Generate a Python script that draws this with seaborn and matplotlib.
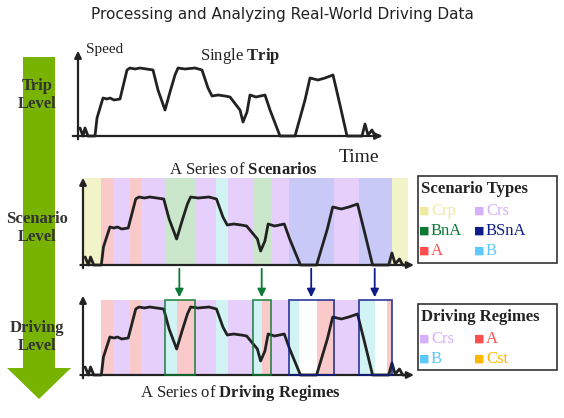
import matplotlib
matplotlib.use('Agg')
import matplotlib.pyplot as plt
from matplotlib.patches import FancyArrow, Rectangle
import seaborn as sns
import pandas as pd

sns.set_theme(style="white")
plt.rcParams['font.family'] = ['DejaVu Sans']
plt.rcParams['mathtext.fontset'] = 'custom'
plt.rcParams['mathtext.rm'] = 'Liberation Serif'
plt.rcParams['mathtext.bf'] = 'Liberation Serif:bold'
SERIF = ['Liberation Serif', 'DejaVu Serif']

# ─── Data ─────────────────────────────────────────────────────────────────────
time  = [2, 5, 7, 10, 17, 19, 25, 29, 32, 36, 42, 49, 52, 57, 62, 75, 80, 87, 92, 97, 100,
         107, 117, 124, 130, 134, 140, 147, 152, 162, 165, 169, 172, 178, 187, 192, 202, 217,
         227, 232, 240, 247, 255, 262, 269, 284, 287, 290, 294, 297, 302]
speed = [8, 0, 8, 0, 0, 18, 38, 37, 38, 36, 37, 66, 68, 67, 68, 66, 46, 26, 44, 61, 68,
         67, 68, 66, 48, 40, 41, 40, 39, 26, 14, 24, 41, 39, 41, 26, 0, 0,
         36, 58, 56, 58, 61, 31, 0, 0, 12, 1, 6, 0, 0]

scen_bounds = [0, 17, 28, 44, 54, 76, 104, 124, 135, 158, 175, 191, 233, 256, 287, 302]
scen_types  = ["Crp", "A", "Crs", "A", "Crs", "BnA", "Crs", "B", "Crs", "BnA", "Crs", "BSnA",
               "Crs", "BSnA", "Crp"]

reg_bounds = [17, 28, 44, 54, 76, 87, 104, 124, 135, 158, 166, 175, 191, 201, 217, 233, 256, 271, 282, 287]
reg_types  = ["A", "Crs", "A", "Crs", "B", "A", "Crs", "B", "Crs", "B", "A", "Crs", "B", None,
              "A", "Crs", "B", None, "A"]

boxes      = [(76, 104), (158, 175), (191, 233), (256, 287)]
box_types  = ["BnA", "BnA", "BSnA", "BSnA"]
arrow_t    = [89.5, 166, 212, 271]

band = {"Crp": "#f3f3c9", "A": "#fac9c9", "Crs": "#e6cffa", "BnA": "#cbe7cb",
        "B": "#d2f3f3", "BSnA": "#c9c9f7"}
key = {"Crp": "#efe9a2", "Crs": "#d6b0fb", "BnA": "#0b7a32", "BSnA": "#0c1d8a",
       "A": "#ff4f4f", "B": "#5cc8fb", "Cst": "#ffb800"}
df = pd.DataFrame({"time": time, "speed": speed})

W, H = 564, 418
fig = plt.figure(figsize=(W / 100, H / 100), dpi=100)

def px_axes(x0, y0, x1, y1):
    # pixel box (top-left origin) -> figure axes
    ax = fig.add_axes([x0 / W, 1 - y1 / H, (x1 - x0) / W, (y1 - y0) / H])
    ax.set_axis_off()
    return ax

def axis_arrows(ax, xmin, xmax, ytop):
    kw = dict(arrowprops=dict(arrowstyle="-|>", color="#222", lw=1.6, mutation_scale=10), annotation_clip=False)
    ax.annotate("", xy=(xmax, 0), xytext=(xmin, 0), **kw)
    ax.annotate("", xy=(0, ytop), xytext=(0, -6), **kw)

def curve(ax, xlim, ylim):
    sns.lineplot(data=df, x="time", y="speed", ax=ax, color="#222", lw=2, zorder=5)
    ax.set_xlim(*xlim); ax.set_ylim(*ylim)
    ax.set_axis_off()

# top panel: 1 px per unit, origin at (78,136)
ax1 = px_axes(70, 40, 395, 150)
curve(ax1, (-8, 317), (-14, 96))
axis_arrows(ax1, -8, 307, 88)

# middle panel
sx = 1 / 0.929
ax2 = px_axes(75, 170, 430, 272)
for a, b, s in zip(scen_bounds[:-1], scen_bounds[1:], scen_types):
    ax2.add_patch(Rectangle((a, 0), b - a, 87, color=band[s], lw=0, zorder=0))
curve(ax2, (-8 / sx, 347 / sx), (-7, 95))
axis_arrows(ax2, -5, 310, 90)

# bottom panel
ax3 = px_axes(75, 290, 430, 382)
for a, b, s in zip(reg_bounds[:-1], reg_bounds[1:], reg_types):
    if s:
        ax3.add_patch(Rectangle((a, 0), b - a, 75, color=band[s], lw=0, zorder=0))
for (a, b), s in zip(boxes, box_types):
    ax3.add_patch(Rectangle((a, 0), b - a, 75, fill=False, ec=key[s], lw=1.3, alpha=0.8, zorder=6))
curve(ax3, (-8 / sx, 347 / sx), (-7, 85))
axis_arrows(ax3, -5, 310, 82)

# arrows between panels
ov = px_axes(0, 0, W, H)
ov.set_xlim(0, W); ov.set_ylim(H, 0)
for t, s in zip(arrow_t, box_types):
    x = 83 + t * sx
    ov.annotate("", xy=(x, 300), xytext=(x, 266),
                arrowprops=dict(arrowstyle="-|>", color=key[s], lw=1.3, mutation_scale=12))

# big green arrow
ov.add_patch(FancyArrow(39, 57, 0, 342, width=32, head_width=64, head_length=31,
                        length_includes_head=True, color="#77b300", lw=0))
for y, s in [(95, "Trip\nLevel"), (228, "Scenario\nLevel"), (337, "Driving\nLevel")]:
    ov.text(37, y, s, ha="center", va="center", family=SERIF, fontweight="bold",
            fontsize=12, color="#333", linespacing=1.15)

ov.text(282, 14, "Processing and Analyzing Real-World Driving Data", ha="center", va="center",
        fontsize=11, color="#222")
ov.text(86, 50, "Speed", family=SERIF, fontsize=11, va="center", color="#222")
ov.text(200, 56, "Single $\\mathbf{Trip}$", family=SERIF, fontsize=12, va="center", color="#222")
ov.text(339, 158, "Time", family=SERIF, fontsize=14, va="center", color="#222")
ov.text(243, 170, "A Series of $\\mathbf{Scenarios}$", family=SERIF, fontsize=12, ha="center", va="center", color="#222")
ov.text(240, 393, "A Series of $\\mathbf{Driving\\ Regimes}$", family=SERIF, fontsize=12, ha="center", va="center", color="#222")

# legend boxes
def legend_box(y0, y1, title, rows):
    ov.add_patch(Rectangle((418, y0), 139, y1 - y0, fill=False, ec="#333", lw=1.2))
    ov.text(421, y0 + 13, title, family=SERIF, fontweight="bold", fontsize=12, va="center", color="#222")
    for r, row in enumerate(rows):
        for c, s in enumerate(row):
            x, y = 424 + c * 55, y0 + 35 + r * 20
            ov.text(x, y, "■", color=key[s], fontsize=8, va="center", ha="center", family=['DejaVu Sans'])
            ov.text(x + 7, y, s, color=key[s], family=SERIF, fontsize=12, va="center")

legend_box(176, 263, "Scenario Types", [["Crp", "Crs"], ["BnA", "BSnA"], ["A", "B"]])
legend_box(304, 370, "Driving Regimes", [["Crs", "A"], ["B", "Cst"]])

fig.savefig("out.png", dpi=100)
